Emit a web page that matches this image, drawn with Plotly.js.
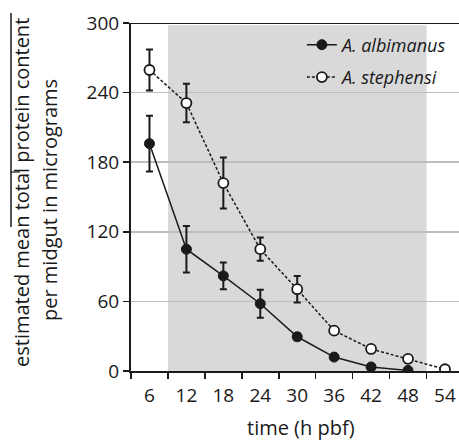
<!DOCTYPE html>
<html>
<head>
<meta charset="utf-8">
<script src="https://cdn.plot.ly/plotly-3.0.1.min.js"></script>
<style>html,body{margin:0;padding:0;background:#fff;}#chart{width:459px;height:441px;}</style>
</head>
<body>
<div id="chart"></div>
<script>
const hours = ['6','12','18','24','30','36','42','48','54'];
const albimanusHours = ['6','12','18','24','30','36','42','48'];
const albimanusMean = [196, 105, 82, 58, 29.5, 12, 3.5, 0.5];
const albimanusErr  = [24, 20, 11.5, 12, 3, 2, 1, 0.5];
const stephensiMean = [259.5, 231, 162, 105, 70.5, 34.8, 19, 10.5, 1.5];
const stephensiErr  = [17.6, 16.6, 22, 10, 11.5, 3, 2, 2, 1];
const yTicks = [0, 60, 120, 180, 240, 300];

const ink = '#1a1a1a';
const fontFam = '"Open Sans", Lato, sans-serif';

const traces = [
  {
    x: albimanusHours, y: albimanusMean, name: '<i>A. albimanus</i>',
    legendgroup: 'a',
    type: 'scatter', mode: 'lines+markers',
    line: {color: ink, width: 1.5},
    marker: {color: ink, size: 10, line: {color: ink, width: 1}},
    error_y: {type: 'data', array: albimanusErr, visible: true, color: ink, thickness: 2, width: 3.5}
  },
  {
    x: hours, y: stephensiMean, name: '<i>A. stephensi</i>',
    legendgroup: 'b',
    type: 'scatter', mode: 'lines+markers',
    line: {color: ink, width: 1.5, dash: '3px,2px'},
    marker: {color: '#ffffff', size: 10, line: {color: ink, width: 1.8}},
    error_y: {type: 'data', array: stephensiErr, visible: true, color: ink, thickness: 2, width: 3.5}
  }
];

const layout = {
  width: 459, height: 441,
  margin: {l: 131, r: 0, t: 23, b: 70},
  paper_bgcolor: '#ffffff', plot_bgcolor: '#ffffff',
  font: {family: fontFam, color: ink, size: 19},
  showlegend: true,
  legend: {
    x: 0.521, xanchor: 'left', y: 0.99, yanchor: 'top',
    bgcolor: 'rgba(0,0,0,0)', borderwidth: 0,
    font: {family: fontFam, size: 18, color: ink},
    traceorder: 'grouped', tracegroupgap: 6, itemwidth: 30
  },
  xaxis: {
    type: 'category', categoryorder: 'array', categoryarray: hours,
    range: [-0.5, 8.38],
    tickson: 'boundaries', ticks: 'outside', ticklen: 6, tickwidth: 1.5, tickcolor: ink,
    showgrid: false, zeroline: false,
    showline: true, linecolor: ink, linewidth: 2,
    tickfont: {family: fontFam, size: 19, color: ink},
    ticklabelstandoff: 6,
    fixedrange: true
  },
  yaxis: {
    range: [0, 300], tickvals: yTicks, ticktext: yTicks.map(String),
    ticks: 'outside', ticklen: 6, tickwidth: 1.5, tickcolor: ink,
    showgrid: true, gridcolor: '#bdbdbd', gridwidth: 1.5,
    zeroline: false, showline: true, linecolor: ink, linewidth: 2,
    tickfont: {family: fontFam, size: 19, color: ink},
    fixedrange: true
  },
  shapes: [
    {type: 'rect', xref: 'x', yref: 'y', x0: 0.5, x1: 7.5, y0: 0, y1: 298,
     fillcolor: '#d9d9d9', line: {width: 0}, layer: 'below'},
    {type: 'rect', xref: 'paper', yref: 'paper',
     x0: (302 - 131) / 328, x1: (425 - 131) / 328, y0: (371 - 88) / 348, y1: (371 - 29) / 348,
     fillcolor: '#ffffff', line: {width: 0}, layer: 'below'},
    {type: 'line', xref: 'paper', yref: 'y', x0: 0, x1: 1, y0: 300, y1: 300,
     line: {color: ink, width: 2}, layer: 'above'},
    {type: 'line', xref: 'paper', yref: 'paper',
     x0: (11 - 131) / 328, x1: (11 - 131) / 328, y0: (371 - 227) / 348, y1: (371 - 13) / 348,
     line: {color: ink, width: 1.5}},
    {type: 'line', xref: 'paper', yref: 'paper',
     x0: (11 - 131) / 328, x1: (20 - 131) / 328, y0: (371 - 172) / 348, y1: (371 - 172) / 348,
     line: {color: ink, width: 1.2}}
  ],
  annotations: [
    {text: 'estimated mean total protein content', textangle: -90,
     xref: 'paper', yref: 'paper', x: (21 - 131) / 328, y: (371 - 193) / 348,
     xanchor: 'center', yanchor: 'middle', showarrow: false,
     font: {family: fontFam, size: 20, color: ink}},
    {text: 'per midgut in micrograms', textangle: -90,
     xref: 'paper', yref: 'paper', x: (49 - 131) / 328, y: (371 - 200) / 348,
     xanchor: 'center', yanchor: 'middle', showarrow: false,
     font: {family: fontFam, size: 20, color: ink}},
    {text: 'time (h pbf)',
     xref: 'paper', yref: 'paper', x: (301 - 131) / 328, y: -(427 - 371) / 348,
     xanchor: 'center', yanchor: 'middle', showarrow: false,
     font: {family: fontFam, size: 20, color: ink}}
  ]
};

Plotly.newPlot('chart', traces, layout, {staticPlot: true, displayModeBar: false});
</script>
</body>
</html>
